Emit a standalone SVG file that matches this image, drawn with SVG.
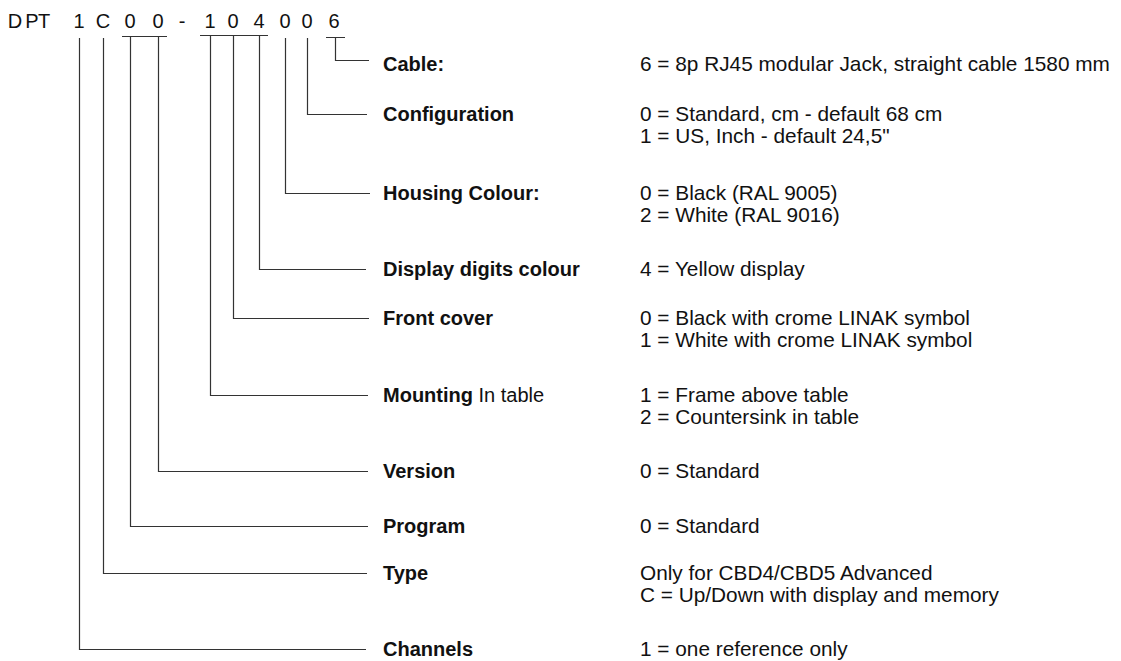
<svg xmlns="http://www.w3.org/2000/svg" width="1121" height="661" viewBox="0 0 1121 661">
<style>
  text { font-family: "Liberation Sans", Arial, sans-serif; fill: #111; }
  .hdr { font-size: 20px; text-anchor: middle; }
  .lbl { font-size: 20px; font-weight: bold; }
  .val { font-size: 20.8px; }
  .reg { font-weight: normal; }
  .ln { fill: none; stroke: #333; stroke-width: 1.2; }
</style>
<rect width="1121" height="661" fill="#ffffff"/>
<g id="code">
  <text class="hdr" y="28" x="15 32 44 79 103 130 158 182 210 233 259 285 307 334">DPT1C00-104006</text>
</g>
<g id="connectors">
  <path class="ln" d="M122 36.5 H167 M200 35.5 H268 M326 37.5 H345"/>
  <path class="ln" d="M335.5 37.5 V60.5 H369"/>
  <path class="ln" d="M307.5 38 V114.5 H367"/>
  <path class="ln" d="M285.5 38 V193.5 H370"/>
  <path class="ln" d="M259.5 35.5 V269.5 H366"/>
  <path class="ln" d="M233.5 35.5 V318.5 H369"/>
  <path class="ln" d="M210.5 35.5 V395.5 H368"/>
  <path class="ln" d="M158.5 36.5 V471.5 H368"/>
  <path class="ln" d="M130.5 36.5 V526.5 H368"/>
  <path class="ln" d="M103.5 38 V573.5 H367"/>
  <path class="ln" d="M79.5 38 V649.5 H366"/>
</g>
<g id="cable">
  <text class="lbl" x="383" y="71">Cable:</text>
  <text class="val" x="640" y="71">6 = 8p RJ45 modular Jack, straight cable 1580 mm</text>
</g>
<g id="configuration">
  <text class="lbl" x="383" y="121">Configuration</text>
  <text class="val" x="640" y="121">0 = Standard, cm - default 68 cm</text>
  <text class="val" x="640" y="143">1 = US, Inch - default 24,5"</text>
</g>
<g id="housing">
  <text class="lbl" x="383" y="200">Housing Colour:</text>
  <text class="val" x="640" y="200">0 = Black (RAL 9005)</text>
  <text class="val" x="640" y="222">2 = White (RAL 9016)</text>
</g>
<g id="display">
  <text class="lbl" x="383" y="276">Display digits colour</text>
  <text class="val" x="640" y="276">4 = Yellow display</text>
</g>
<g id="front">
  <text class="lbl" x="383" y="325">Front cover</text>
  <text class="val" x="640" y="325">0 = Black with crome LINAK symbol</text>
  <text class="val" x="640" y="347">1 = White with crome LINAK symbol</text>
</g>
<g id="mounting">
  <text class="lbl" x="383" y="402">Mounting<tspan class="reg"> In table</tspan></text>
  <text class="val" x="640" y="402">1 = Frame above table</text>
  <text class="val" x="640" y="424">2 = Countersink in table</text>
</g>
<g id="version">
  <text class="lbl" x="383" y="478">Version</text>
  <text class="val" x="640" y="478">0 = Standard</text>
</g>
<g id="program">
  <text class="lbl" x="383" y="533">Program</text>
  <text class="val" x="640" y="533">0 = Standard</text>
</g>
<g id="type">
  <text class="lbl" x="383" y="580">Type</text>
  <text class="val" x="640" y="580">Only for CBD4/CBD5 Advanced</text>
  <text class="val" x="640" y="602">C = Up/Down with display and memory</text>
</g>
<g id="channels">
  <text class="lbl" x="383" y="656">Channels</text>
  <text class="val" x="640" y="656">1 = one reference only</text>
</g>
</svg>
